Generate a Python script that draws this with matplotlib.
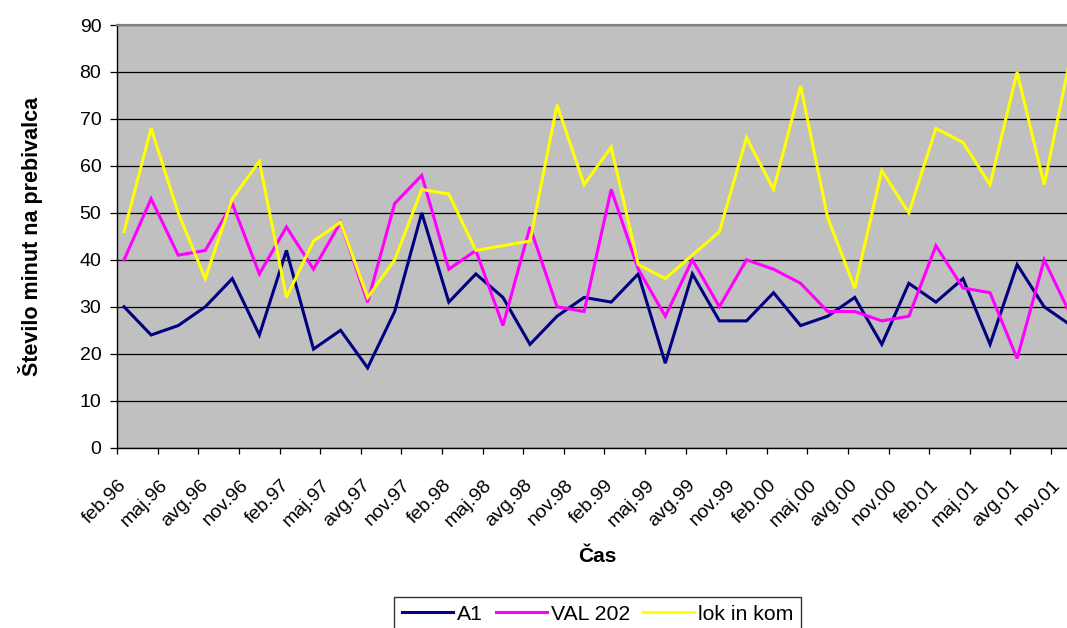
import matplotlib
matplotlib.use("Agg")
import matplotlib.pyplot as plt
from matplotlib.ticker import FixedLocator, NullFormatter

plt.rcParams['font.family'] = ['Liberation Sans', 'DejaVu Sans']

# Bi-monthly observations starting feb.96 (x = months since feb.96)
months_step = 2
a1 = [30, 24, 26, 30, 36, 24, 42, 21, 25, 17, 29, 50,
      31, 37, 32, 22, 28, 32, 31, 37, 18, 37, 27,
      27, 33, 26, 28, 32, 22, 35, 31, 36, 22, 39, 30, 26]
val202 = [40, 53, 41, 42, 52, 37, 47, 38, 48, 31, 52, 58,
          38, 42, 26, 47, 30, 29, 55, 38, 28, 40, 30,
          40, 38, 35, 29, 29, 27, 28, 43, 34, 33, 19, 40, 28]
lok_in_kom = [46, 68, 50, 36, 53, 61, 32, 44, 48, 32, 40, 55,
              54, 42, 43, 44, 73, 56, 64, 39, 36, 41, 46,
              66, 55, 77, 49, 34, 59, 50, 68, 65, 56, 80, 56, 84]

# Quarterly category labels on the monthly axis
tick_labels = ['feb.96', 'maj.96', 'avg.96', 'nov.96',
               'feb.97', 'maj.97', 'avg.97', 'nov.97',
               'feb.98', 'maj.98', 'avg.98', 'nov.98',
               'feb.99', 'maj.99', 'avg.99', 'nov.99',
               'feb.00', 'maj.00', 'avg.00', 'nov.00',
               'feb.01', 'maj.01', 'avg.01', 'nov.01']
n_months = 71

series = [("A1", a1, "#000080"),
          ("VAL 202", val202, "#FF00FF"),
          ("lok in kom", lok_in_kom, "#FFFF00")]

W, H = 1067, 628
fig = plt.figure(figsize=(W / 100, H / 100), dpi=100)
fig.patch.set_facecolor("white")

left_px, right_px, top_px, bottom_px = 117.3, 1078.0, 25.0, 447.7
ax = fig.add_axes([left_px / W, 1 - bottom_px / H,
                   (right_px - left_px) / W, (bottom_px - top_px) / H])
ax.set_facecolor("#C0C0C0")

for name, vals, color in series:
    xs = [i * months_step for i in range(len(vals))]
    ax.plot(xs, vals, color=color, lw=2.2, label=name, solid_joinstyle="miter")

ax.set_xlim(-0.5, n_months - 0.5)
ax.set_ylim(0, 90)

# y axis
ax.set_yticks(range(0, 91, 10))
ax.yaxis.grid(True, color="black", lw=0.9)
ax.set_axisbelow(True)
ax.tick_params(axis="y", direction="out", length=5, width=0.9, pad=6.5,
               labelsize=14, colors="black")

# x axis: tick marks between quarters, labels at quarter months
ax.xaxis.set_major_locator(FixedLocator([k - 0.5 for k in range(0, n_months + 1, 3)]))
ax.xaxis.set_major_formatter(NullFormatter())
ax.xaxis.set_minor_locator(FixedLocator([3 * i for i in range(len(tick_labels))]))
ax.set_xticklabels(tick_labels, minor=True, rotation=45, ha="right",
                   va="center", rotation_mode="anchor", fontsize=14)
ax.tick_params(axis="x", which="major", direction="out", length=4.3, width=0.9)
ax.tick_params(axis="x", which="minor", length=0, pad=25)

for side in ("left", "bottom"):
    ax.spines[side].set_color("black")
    ax.spines[side].set_linewidth(1.0)
ax.spines["top"].set_color("#808080")
ax.spines["top"].set_linewidth(1.6)
ax.spines["right"].set_color("#808080")

ax.set_ylabel("Število minut na prebivalca", fontsize=15.5, fontweight="bold",
              va="center", ha="center")
ax.yaxis.set_label_coords((31 - left_px) / (right_px - left_px), 0.5)
ax.set_xlabel("Čas", fontsize=15, fontweight="bold", va="center", ha="center")
ax.xaxis.set_label_coords(0.5, (bottom_px - 556) / (bottom_px - top_px))

leg = fig.legend(loc="upper center", bbox_to_anchor=(597.5 / W, 1 - 597.3 / H),
                 ncol=3, frameon=True, fancybox=False, shadow=False,
                 fontsize=15.3, handlelength=2.4, handletextpad=0.2,
                 columnspacing=0.6, borderpad=0.35, borderaxespad=0)
leg.get_frame().set_edgecolor("black")
leg.get_frame().set_linewidth(1.0)
for line in leg.get_lines():
    line.set_linewidth(2.2)

fig.savefig("out.png", dpi=100)
